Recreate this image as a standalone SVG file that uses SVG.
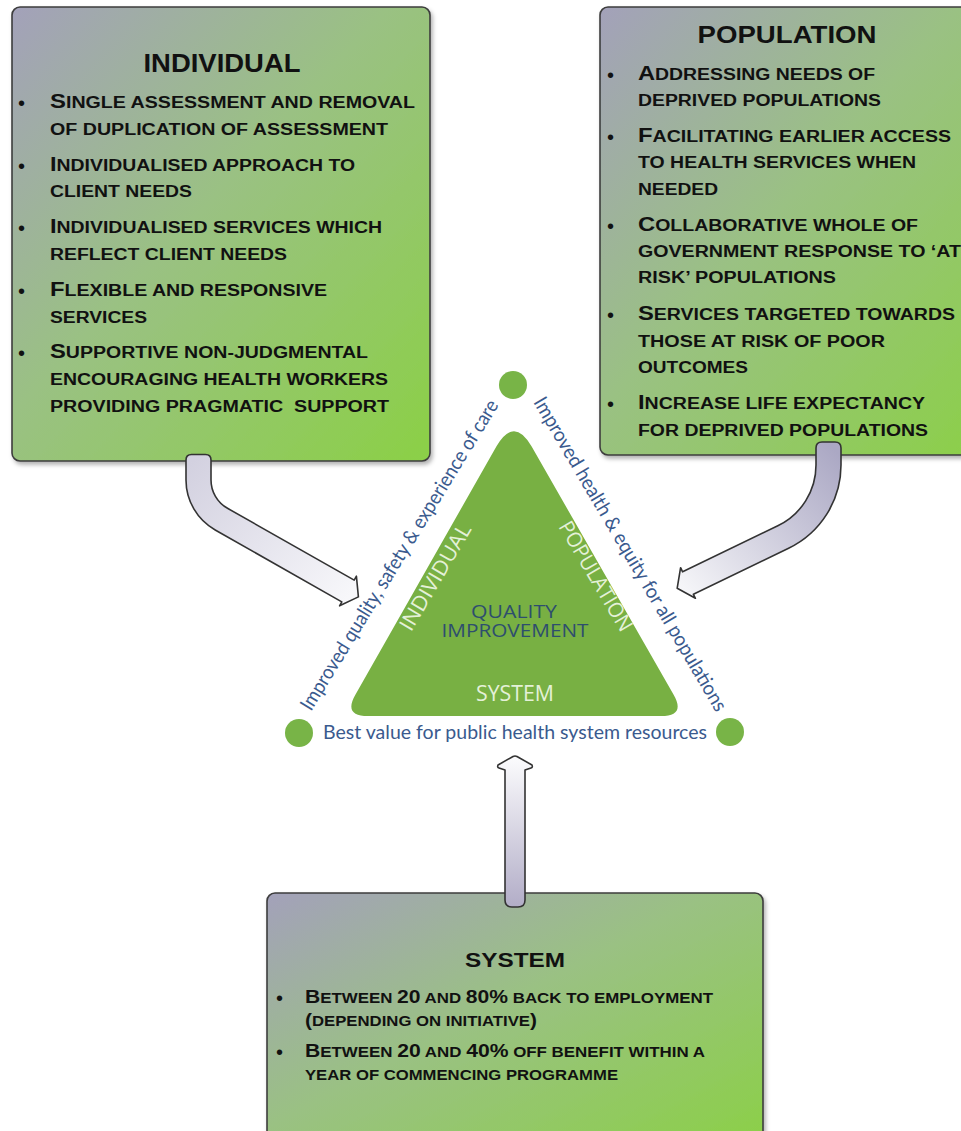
<svg xmlns="http://www.w3.org/2000/svg" width="961" height="1131" viewBox="0 0 961 1131">
  <defs>
    <linearGradient id="boxFill" x1="0" y1="0" x2="1" y2="1">
      <stop offset="0" stop-color="#a3a1ba"/>
      <stop offset="0.45" stop-color="#9ac183"/>
      <stop offset="1" stop-color="#8bd046"/>
    </linearGradient>
    <linearGradient id="arrowLeft" gradientUnits="userSpaceOnUse" x1="198" y1="455" x2="350" y2="595">
      <stop offset="0" stop-color="#d3d1e0"/>
      <stop offset="1" stop-color="#f7f7fa"/>
    </linearGradient>
    <linearGradient id="arrowRight" gradientUnits="userSpaceOnUse" x1="830" y1="445" x2="680" y2="585">
      <stop offset="0" stop-color="#aba8c4"/>
      <stop offset="1" stop-color="#f5f5f8"/>
    </linearGradient>
    <linearGradient id="arrowUp" gradientUnits="userSpaceOnUse" x1="515" y1="905" x2="515" y2="760">
      <stop offset="0" stop-color="#b3aec8"/>
      <stop offset="1" stop-color="#fafafc"/>
    </linearGradient>
    <filter id="shadow" x="-5%" y="-5%" width="115%" height="115%">
      <feDropShadow dx="2" dy="3" stdDeviation="2" flood-color="#000" flood-opacity="0.3"/>
    </filter>
  </defs>
  <style>
    .box { fill: url(#boxFill); stroke: #3d3d3d; stroke-width: 1.6; filter: url(#shadow); }
    .hd { font-family: "Liberation Sans", Arial, sans-serif; font-weight: bold; fill: #111; text-anchor: middle; }
    .it { font-family: "Liberation Sans", Arial, sans-serif; font-weight: bold; font-size: 16px; fill: #111; }
    .it .c { font-size: 19.5px; }
    .sy { font-size: 14px; }
    .sy .c { font-size: 17.5px; }
    .dot { font-family: "Liberation Sans", Arial, sans-serif; font-size: 20px; fill: #111; }
    .arrow { stroke: #333; stroke-width: 1.6; stroke-linejoin: round; }
    .lbl { font-family: Lato, "Open Sans", sans-serif; font-size: 20px; fill: #3a5a8e; }
    .inner { font-family: "Open Sans", sans-serif; font-size: 21px; fill: #e4f1d8; text-anchor: middle; }
    .qi { font-family: "Open Sans", sans-serif; font-size: 17.5px; fill: #2e4e6e; text-anchor: middle; }
    .vertex { fill: #78b447; }
  </style>
  <rect width="961" height="1131" fill="#ffffff"/>

  <!-- Individual box -->
  <g id="node-individual">
    <rect class="box" x="12" y="7" width="418" height="454" rx="8"/>
    <text class="hd" x="222" y="72" font-size="25" textLength="157" lengthAdjust="spacingAndGlyphs">INDIVIDUAL</text>
    <text class="dot" x="18" y="109.5">•</text>
    <text class="dot" x="18" y="172.5">•</text>
    <text class="dot" x="18" y="234.5">•</text>
    <text class="dot" x="18" y="297.5">•</text>
    <text class="dot" x="18" y="359.5">•</text>
    <text class="it" x="50" y="108" textLength="365" lengthAdjust="spacingAndGlyphs"><tspan class="c">S</tspan>INGLE ASSESSMENT AND REMOVAL</text>
    <text class="it" x="50" y="135" textLength="338" lengthAdjust="spacingAndGlyphs">OF DUPLICATION OF ASSESSMENT</text>
    <text class="it" x="50" y="171" textLength="305" lengthAdjust="spacingAndGlyphs"><tspan class="c">I</tspan>NDIVIDUALISED APPROACH TO</text>
    <text class="it" x="50" y="197" textLength="142" lengthAdjust="spacingAndGlyphs">CLIENT NEEDS</text>
    <text class="it" x="50" y="233" textLength="332" lengthAdjust="spacingAndGlyphs"><tspan class="c">I</tspan>NDIVIDUALISED SERVICES WHICH</text>
    <text class="it" x="50" y="260" textLength="237" lengthAdjust="spacingAndGlyphs">REFLECT CLIENT NEEDS</text>
    <text class="it" x="50" y="296" textLength="277" lengthAdjust="spacingAndGlyphs"><tspan class="c">F</tspan>LEXIBLE AND RESPONSIVE</text>
    <text class="it" x="50" y="323" textLength="97" lengthAdjust="spacingAndGlyphs">SERVICES</text>
    <text class="it" x="50" y="358" textLength="318" lengthAdjust="spacingAndGlyphs"><tspan class="c">S</tspan>UPPORTIVE NON-JUDGMENTAL</text>
    <text class="it" x="50" y="385" textLength="338" lengthAdjust="spacingAndGlyphs">ENCOURAGING HEALTH WORKERS</text>
    <text class="it" x="50" y="412" textLength="339" lengthAdjust="spacingAndGlyphs" xml:space="preserve">PROVIDING PRAGMATIC  SUPPORT</text>
  </g>

  <!-- Population box (runs past the right edge) -->
  <g id="node-population">
    <rect class="box" x="600" y="7" width="400" height="448" rx="8"/>
    <text class="hd" x="787" y="43" font-size="24" textLength="179" lengthAdjust="spacingAndGlyphs">POPULATION</text>
    <text class="dot" x="607" y="81.5">•</text>
    <text class="dot" x="607" y="143.5">•</text>
    <text class="dot" x="607" y="232.5">•</text>
    <text class="dot" x="607" y="321.5">•</text>
    <text class="dot" x="607" y="410.5">•</text>
    <text class="it" x="638" y="80" textLength="237" lengthAdjust="spacingAndGlyphs"><tspan class="c">A</tspan>DDRESSING NEEDS OF</text>
    <text class="it" x="638" y="106" textLength="243" lengthAdjust="spacingAndGlyphs">DEPRIVED POPULATIONS</text>
    <text class="it" x="638" y="142" textLength="313" lengthAdjust="spacingAndGlyphs"><tspan class="c">F</tspan>ACILITATING EARLIER ACCESS</text>
    <text class="it" x="638" y="168" textLength="278" lengthAdjust="spacingAndGlyphs">TO HEALTH SERVICES WHEN</text>
    <text class="it" x="638" y="195" textLength="80" lengthAdjust="spacingAndGlyphs">NEEDED</text>
    <text class="it" x="638" y="231" textLength="280" lengthAdjust="spacingAndGlyphs"><tspan class="c">C</tspan>OLLABORATIVE WHOLE OF</text>
    <text class="it" x="638" y="257" textLength="323" lengthAdjust="spacingAndGlyphs">GOVERNMENT RESPONSE TO ‘AT</text>
    <text class="it" x="638" y="283" textLength="198" lengthAdjust="spacingAndGlyphs">RISK’ POPULATIONS</text>
    <text class="it" x="638" y="320" textLength="317" lengthAdjust="spacingAndGlyphs"><tspan class="c">S</tspan>ERVICES TARGETED TOWARDS</text>
    <text class="it" x="638" y="347" textLength="247" lengthAdjust="spacingAndGlyphs">THOSE AT RISK OF POOR</text>
    <text class="it" x="638" y="373" textLength="110" lengthAdjust="spacingAndGlyphs">OUTCOMES</text>
    <text class="it" x="638" y="409" textLength="287" lengthAdjust="spacingAndGlyphs"><tspan class="c">I</tspan>NCREASE LIFE EXPECTANCY</text>
    <text class="it" x="638" y="436" textLength="290" lengthAdjust="spacingAndGlyphs">FOR DEPRIVED POPULATIONS</text>
  </g>

  <!-- System box (runs past the bottom edge) -->
  <g id="node-system">
    <rect class="box" x="267" y="893" width="496" height="260" rx="8"/>
    <text class="hd" x="515" y="967" font-size="20.5" textLength="100" lengthAdjust="spacingAndGlyphs">SYSTEM</text>
    <text class="dot" x="276" y="1004.5">•</text>
    <text class="dot" x="276" y="1058.5">•</text>
    <text class="it sy" x="305" y="1003" textLength="408" lengthAdjust="spacingAndGlyphs"><tspan class="c">B</tspan>ETWEEN <tspan class="c">20</tspan> AND <tspan class="c">80%</tspan> BACK TO EMPLOYMENT</text>
    <text class="it sy" x="305" y="1026" textLength="232" lengthAdjust="spacingAndGlyphs"><tspan class="c">(</tspan>DEPENDING ON INITIATIVE<tspan class="c">)</tspan></text>
    <text class="it sy" x="305" y="1057" textLength="400" lengthAdjust="spacingAndGlyphs"><tspan class="c">B</tspan>ETWEEN <tspan class="c">20</tspan> AND <tspan class="c">40%</tspan> OFF BENEFIT WITHIN A</text>
    <text class="it sy" x="305" y="1080" textLength="313" lengthAdjust="spacingAndGlyphs">YEAR OF COMMENCING PROGRAMME</text>
  </g>

  <!-- Quality improvement triangle -->
  <g id="node-quality-triangle">
    <path d="M 496.5 446.3 Q 514 416 531.5 446.3 L 673.5 694.4 Q 686 716 661 716 L 368 716 Q 343 716 355.5 694.4 Z" fill="#78b043"/>
    <circle class="vertex" cx="513" cy="385" r="14"/>
    <circle class="vertex" cx="299" cy="733" r="14"/>
    <circle class="vertex" cx="730" cy="732" r="14"/>
    <text class="lbl" transform="translate(311,712) rotate(-58.5)" textLength="360" lengthAdjust="spacingAndGlyphs">Improved quality, safety &amp; experience of care</text>
    <text class="lbl" transform="translate(533,402) rotate(59.5)" textLength="361" lengthAdjust="spacingAndGlyphs">Improved health &amp; equity for all populations</text>
    <text class="lbl" x="323" y="739" textLength="384" lengthAdjust="spacingAndGlyphs">Best value for public health system resources</text>
    <text class="inner" transform="translate(435,577) rotate(-59.5)" y="7.5" textLength="120" lengthAdjust="spacingAndGlyphs">INDIVIDUAL</text>
    <text class="inner" transform="translate(596,576) rotate(59.5)" y="7.5" textLength="124" lengthAdjust="spacingAndGlyphs">POPULATION</text>
    <text class="inner" x="515" y="701" textLength="78" lengthAdjust="spacingAndGlyphs">SYSTEM</text>
    <text class="qi"><tspan x="514" y="618" textLength="86" lengthAdjust="spacingAndGlyphs">QUALITY</tspan><tspan x="515" y="637" textLength="147" lengthAdjust="spacingAndGlyphs">IMPROVEMENT</tspan></text>
  </g>

  <!-- Block arrows feeding the triangle -->
  <g id="connectors">
    <path class="arrow" fill="url(#arrowLeft)" d="M 186 460 Q 186 454.5 191.5 454.5 L 205.5 454.5 Q 211 454.5 211 460 L 211 480 A 32.5 32.5 0 0 0 227.5 508.3 L 354.2 580.1 L 356.4 576.2 L 358.4 596.9 L 339.6 605.8 L 341.8 601.9 L 215.2 530 A 57.5 57.5 0 0 1 186 480 Z"/>
    <path class="arrow" fill="url(#arrowRight)" d="M 816 448 Q 816 442 822 442 L 835 442 Q 841 442 841 448 L 841 465 A 92.5 92.5 0 0 1 788.6 548.3 L 693.4 594.3 L 695.4 598.3 L 677.2 588.2 L 680.6 567.7 L 682.6 571.8 L 777.8 525.8 A 67.5 67.5 0 0 0 816 465 Z"/>
    <path class="arrow" fill="url(#arrowUp)" d="M 505 900 L 505 770 L 499 768 Q 497 767.5 498 765 L 513 756.5 Q 515 755.5 517 756.5 L 532 765 Q 533 767.5 531 768 L 525 770 L 525 900 Q 525 907 518 907 L 512 907 Q 505 907 505 900 Z"/>
  </g>
</svg>
